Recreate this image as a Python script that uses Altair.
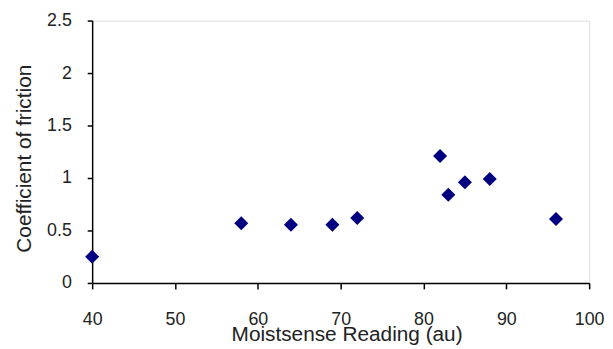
import altair as alt
import pandas as pd

moistsense = [40, 58, 64, 69, 72, 82, 83, 85, 88, 96]
friction = [0.25, 0.57, 0.555, 0.555, 0.62, 1.21, 0.84, 0.96, 0.99, 0.61]

df = pd.DataFrame({"x": moistsense, "y": friction})

font = "Liberation Sans"

chart = alt.Chart(df).mark_point(
    shape="diamond", filled=True, color="#000080", size=200, opacity=1
).encode(
    x=alt.X("x:Q", scale=alt.Scale(domain=[40, 100], nice=False, zero=False),
            axis=alt.Axis(values=[40, 50, 60, 70, 80, 90, 100], title="Moistsense Reading (au)",
                          grid=False, domainColor="#000000", domainWidth=1.5,
                          tickColor="#000000", tickWidth=1.5, tickSize=6,
                          labelFont=font, labelFontSize=18, labelColor="#222222",
                          labelPadding=22, labelFlush=False,
                          titleFont=font, titleFontSize=21, titleFontWeight="normal",
                          titleColor="#222222", titlePadding=-5, titleX=257)),
    y=alt.Y("y:Q", scale=alt.Scale(domain=[0, 2.5], nice=False),
            axis=alt.Axis(values=[0, 0.5, 1, 1.5, 2, 2.5], format="~g",
                          title="Coefficient of friction",
                          grid=False, domainColor="#000000", domainWidth=1.5,
                          tickColor="#000000", tickWidth=1.5, tickSize=5,
                          labelFont=font, labelFontSize=18, labelColor="#222222",
                          labelPadding=16,
                          titleFont=font, titleFontSize=21, titleFontWeight="normal",
                          titleColor="#222222", titlePadding=12, titleY=139)),
).properties(
    width=502, height=265,
    autosize=alt.AutoSizeParams(type="none"),
    padding={"left": 85, "top": 11, "right": 16, "bottom": 64},
).configure_view(
    stroke="#8c8c8c", strokeWidth=2
).configure(background="white")

chart.save("out.html", embed_options={"renderer": "svg", "actions": False})
